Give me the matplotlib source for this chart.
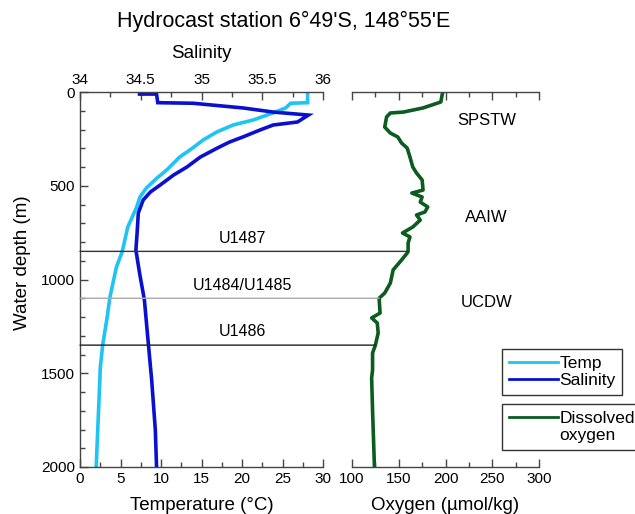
import matplotlib
matplotlib.use("Agg")
import matplotlib.pyplot as plt
from matplotlib.lines import Line2D
from matplotlib.patches import ConnectionPatch
from matplotlib.ticker import MultipleLocator

plt.rcParams['font.family'] = ['Liberation Sans', 'DejaVu Sans']

# === data ===
temp_depth = [0, 57, 60, 85, 112, 149, 176, 213, 256, 299, 347, 416, 459, 512,
              560, 613, 720, 853, 933, 1093, 1216, 1349, 1472, 1536, 1893, 2000]
temp_c = [28.1, 28.1, 26.0, 25.4, 23.8, 21.4, 18.9, 16.9, 15.2, 13.9, 12.3, 10.7, 9.5, 8.2,
          7.4, 7.0, 5.9, 5.2, 4.5, 3.7, 3.3, 2.8, 2.5, 2.45, 2.1, 2.0]

sal_depth = [0, 11, 11, 57, 60, 85, 107, 123, 160, 176, 203, 240, 267, 299, 347, 400,
             443, 496, 533, 576, 645, 752, 843, 965, 1109, 1253, 1467, 1536, 1803, 2000]
salinity = [34.49, 34.49, 34.63, 34.64, 34.93, 35.34, 35.59, 35.88, 35.79, 35.59, 35.48,
            35.34, 35.23, 35.13, 34.99, 34.88, 34.77, 34.66, 34.58, 34.52, 34.48, 34.47,
            34.46, 34.49, 34.53, 34.55, 34.58, 34.59, 34.62, 34.63]

oxy_depth = [0, 53, 60, 85, 107, 112, 133, 187, 219, 240, 272, 299, 347, 400, 432, 469,
             523, 539, 560, 587, 613, 640, 656, 683, 720, 752, 773, 805, 850, 859, 896,
             949, 1019, 1072, 1100, 1179, 1205, 1232, 1285, 1350, 1392, 1483, 1525, 1700,
             1850, 2000]
oxygen = [197, 195, 191, 176, 155, 141, 137, 135, 141, 149, 153, 159, 162, 165, 169, 175,
          176, 164, 175, 173, 181, 178, 169, 173, 165, 154, 162, 160, 160, 159, 153,
          144, 141, 135, 129, 130, 121, 127, 128, 125, 122, 122, 121, 122,
          123, 124]

sites = ["U1487", "U1484/U1485", "U1486"]
site_depth = [850, 1100, 1350]
site_oxy = [160, 129, 125]
site_color = ["#333333", "#aaaaaa", "#222222"]

masses = ["SPSTW", "AAIW", "UCDW"]
mass_depth = [150, 670, 1125]

# === figure ===
W, H = 635, 514
fig = plt.figure(figsize=(W / 100, H / 100), dpi=100)

def box(x0, x1, y0, y1):
    return [x0 / W, 1 - y1 / H, (x1 - x0) / W, (y1 - y0) / H]

ax = fig.add_axes(box(80, 323, 92, 467))
axs = ax.twiny()
ax2 = fig.add_axes(box(352, 539, 92, 467))

cyan = "#1ec4f4"
blue = "#0a10d0"
green = "#0b5c1e"
spine_c = "#444444"

ax.plot(temp_c, temp_depth, color=cyan, lw=2.6, solid_joinstyle="miter")
axs.plot(salinity, sal_depth, color=blue, lw=2.6, solid_joinstyle="miter")
ax2.plot(oxygen, oxy_depth, color=green, lw=2.6)

for a in (ax, axs, ax2):
    a.set_ylim(2000, 0)

ax.set_xlim(0, 30)
axs.set_xlim(34, 36)
ax2.set_xlim(100, 300)

ax.xaxis.set_major_locator(MultipleLocator(5))
ax.xaxis.set_minor_locator(MultipleLocator(2.5))
ax.yaxis.set_major_locator(MultipleLocator(500))
ax.yaxis.set_minor_locator(MultipleLocator(100))
axs.xaxis.set_major_locator(MultipleLocator(0.5))
axs.xaxis.set_minor_locator(MultipleLocator(0.25))
axs.set_xticklabels([], minor=True)
axs.xaxis.set_major_formatter(plt.FuncFormatter(lambda v, p: f"{v:g}"))
ax2.xaxis.set_major_locator(MultipleLocator(50))
ax2.xaxis.set_minor_locator(MultipleLocator(25))

for a in (ax, axs, ax2):
    a.tick_params(which="both", direction="in", color=spine_c, labelsize=11, width=1)
    a.tick_params(which="major", length=6)
    a.tick_params(which="minor", length=3.5)
    for s in a.spines.values():
        s.set_color(spine_c)
        s.set_linewidth(1)

ax.spines["right"].set_visible(False)
axs.spines["right"].set_visible(False)
axs.spines["bottom"].set_visible(False)
axs.spines["left"].set_visible(False)
ax.spines["top"].set_visible(False)
ax2.spines["left"].set_visible(False)
ax2.spines["right"].set_visible(False)
ax2.set_yticks([])
ax2.tick_params(axis="x", which="both", top=True)
axs.tick_params(axis="y", left=False, right=False, labelleft=False, labelright=False)

ax.set_xlabel("Temperature (°C)", fontsize=13.5, labelpad=8)
axs.set_xlabel("Salinity", fontsize=13.5, labelpad=11)
ax2.set_xlabel("Oxygen (µmol/kg)", fontsize=13.5, labelpad=8)
ax.set_ylabel("Water depth (m)", fontsize=13.5)
ax.yaxis.set_label_coords(-0.2, 0.545)

fig.text(284 / W, 1 - 21 / H, "Hydrocast station 6°49'S, 148°55'E",
         ha="center", va="center", fontsize=15.5)

# site depth lines running into the oxygen panel
for name, d, o, c in zip(sites, site_depth, site_oxy, site_color):
    con = ConnectionPatch(xyA=(0, d), coordsA=ax.transData,
                          xyB=(o, d), coordsB=ax2.transData,
                          color=c, lw=1)
    fig.add_artist(con)
    ax.text(20, d - 30, name, ha="center", va="bottom", fontsize=11.5)

for name, d in zip(masses, mass_depth):
    ax2.text(244, d, name, ha="center", va="center", fontsize=12)

leg1 = fig.legend(handles=[Line2D([], [], color=cyan, lw=2),
                           Line2D([], [], color=blue, lw=2)],
                  labels=["Temp", "Salinity"],
                  loc="upper left", bbox_to_anchor=(502 / W, 1 - 349 / H),
                  fontsize=12.5, fancybox=False, edgecolor="black",
                  handlelength=2.8, handletextpad=0.1, labelspacing=0.1,
                  borderpad=0.4, borderaxespad=0)
leg1.get_frame().set_linewidth(1)
# second line of the oxygen label gets an empty handle
leg2 = fig.legend(handles=[Line2D([], [], color=green, lw=2),
                           Line2D([], [], color="none", lw=2)],
                  labels=["Dissolved", "oxygen"],
                  loc="upper left", bbox_to_anchor=(502 / W, 1 - 404 / H),
                  fontsize=12.5, fancybox=False, edgecolor="black",
                  handlelength=2.8, handletextpad=0.1, labelspacing=0.1,
                  borderpad=0.4, borderaxespad=0)
leg2.get_frame().set_linewidth(1)

fig.savefig("out.png", dpi=100)
